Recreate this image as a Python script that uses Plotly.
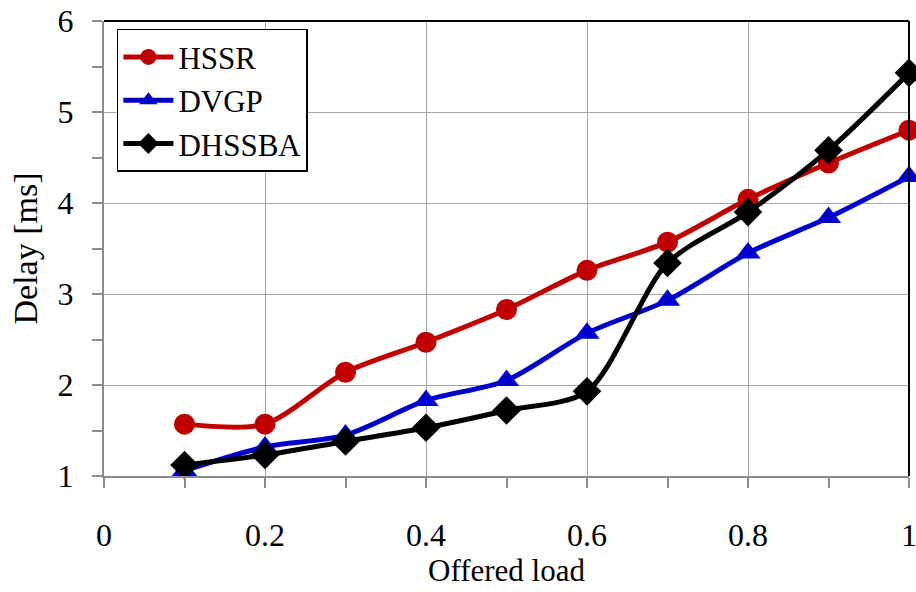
import plotly.graph_objects as go

# Offered load and measured delay [ms] for each scheme
load = [0.1, 0.2, 0.3, 0.4, 0.5, 0.6, 0.7, 0.8, 0.9, 1.0]
hssr = [1.57, 1.57, 2.14, 2.47, 2.83, 3.26, 3.57, 4.04, 4.44, 4.80]
dvgp = [1.06, 1.32, 1.45, 1.83, 2.05, 2.57, 2.93, 3.45, 3.84, 4.29]
dhssba = [1.12, 1.23, 1.38, 1.53, 1.72, 1.93, 3.34, 3.90, 4.58, 5.43]

x_ticks = [0, 0.2, 0.4, 0.6, 0.8, 1]
x_tick_text = ["0", "0.2", "0.4", "0.6", "0.8", "1"]
y_ticks = [1, 2, 3, 4, 5, 6]

FONT = "Liberation Serif"

series = [
    ("HSSR", hssr, "#C00000", "circle", 21),
    ("DVGP", dvgp, "#0000CC", "triangle-up", 22),
    ("DHSSBA", dhssba, "#000000", "diamond", 22),
]

fig = go.Figure()
for name, vals, color, symbol, size in series:
    fig.add_trace(go.Scatter(
        x=load, y=vals, name=name, mode="lines+markers",
        line=dict(color=color, width=5, shape="spline", smoothing=0.8),
        marker=dict(symbol=symbol, size=size, color=color),
        cliponaxis=False,
    ))

axis_common = dict(
    showline=True, linecolor="#8c8c8c", linewidth=2,
    showgrid=True, gridcolor="#a6a6a6", gridwidth=1.3,
    ticks="outside", ticklen=10, tickwidth=1.5, tickcolor="#8c8c8c",
    tickfont=dict(family=FONT, size=32, color="black"),
    zeroline=False, automargin=False, ticklabeloverflow="allow",
)

fig.update_layout(
    width=916, height=592,
    margin=dict(l=104, r=7, t=21, b=116),
    paper_bgcolor="white", plot_bgcolor="white",
    font=dict(family=FONT, color="black"),
    xaxis=dict(
        axis_common, range=[0, 1], tickvals=x_ticks, ticktext=x_tick_text,
        minor=dict(dtick=0.1, tick0=0, ticks="outside", ticklen=10,
                   tickwidth=1.5, tickcolor="#8c8c8c", showgrid=False),
        ticklabelstandoff=20,
        title=dict(text="Offered load", font=dict(family=FONT, size=31), standoff=2),
    ),
    yaxis=dict(
        axis_common, range=[1, 6], tickvals=y_ticks,
        minor=dict(dtick=0.5, tick0=1, ticks="outside", ticklen=10,
                   tickwidth=1.5, tickcolor="#8c8c8c", showgrid=False),
        ticklabelstandoff=12,
        title=dict(text="Delay [ms]", font=dict(family=FONT, size=34), standoff=10),
    ),
    legend=dict(
        x=0.016, y=0.983, xanchor="left", yanchor="top",
        bgcolor="white", bordercolor="black", borderwidth=1.5,
        font=dict(family=FONT, size=31),
        itemwidth=50, tracegroupgap=0,
    ),
    showlegend=True,
)

# Black frame on the top and right edges of the plot area
fig.add_shape(type="line", xref="paper", yref="paper", x0=0, x1=1, y0=1, y1=1,
              line=dict(color="black", width=2))
fig.add_shape(type="line", xref="paper", yref="paper", x0=1, x1=1, y0=0, y1=1,
              line=dict(color="black", width=2))

fig.write_html("out.html")
